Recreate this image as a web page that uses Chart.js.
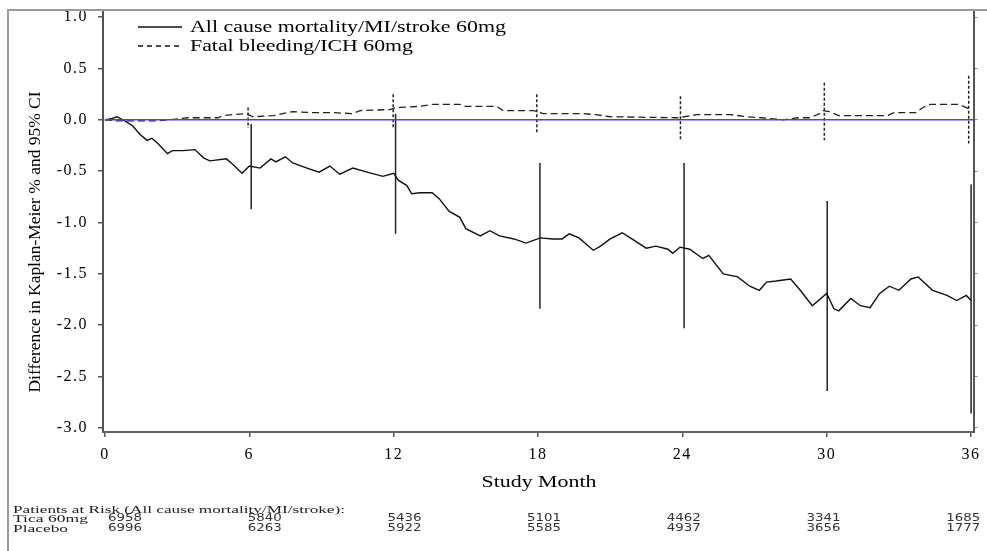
<!DOCTYPE html>
<html><head><meta charset="utf-8">
<script src="https://cdn.jsdelivr.net/npm/chart.js@4.4.1/dist/chart.umd.min.js"></script>
<style>html,body{margin:0;padding:0;background:#fff;} #wrap{width:987px;height:551px;position:relative;}</style>
</head><body><div id="wrap"><canvas id="c"></canvas></div>
<script>
// ---- data ----
const maceMonths = [0,0.25,0.5,0.83,1.16,1.45,1.75,1.95,2.2,2.6,2.8,3.25,3.74,4.1,4.36,5.05,5.3,5.7,6.0,6.45,6.9,7.1,7.5,7.8,8.4,8.9,9.35,9.76,10.3,10.9,11.55,12.0,12.2,12.55,12.75,13.1,13.6,13.9,14.3,14.75,15.0,15.6,16.0,16.4,17.0,17.5,18.1,18.6,19.0,19.3,19.7,20.3,20.6,21.0,21.5,21.9,22.5,22.9,23.4,23.6,23.9,24.3,24.85,25.1,25.7,26.3,26.8,27.2,27.5,27.9,28.5,28.9,29.4,30.0,30.3,30.5,31.0,31.4,31.8,32.2,32.6,33.0,33.5,33.8,34.4,35.0,35.4,35.8,36.0];
const maceDiff = [0,0.01,0.03,-0.01,-0.06,-0.14,-0.20,-0.18,-0.23,-0.33,-0.30,-0.30,-0.29,-0.37,-0.40,-0.38,-0.43,-0.52,-0.45,-0.47,-0.38,-0.41,-0.36,-0.42,-0.47,-0.51,-0.45,-0.53,-0.47,-0.51,-0.55,-0.52,-0.59,-0.64,-0.72,-0.71,-0.71,-0.77,-0.89,-0.95,-1.06,-1.13,-1.08,-1.13,-1.16,-1.20,-1.15,-1.16,-1.16,-1.11,-1.15,-1.27,-1.23,-1.16,-1.10,-1.16,-1.25,-1.23,-1.26,-1.30,-1.24,-1.26,-1.35,-1.32,-1.50,-1.53,-1.62,-1.66,-1.58,-1.57,-1.55,-1.66,-1.81,-1.69,-1.84,-1.86,-1.74,-1.81,-1.83,-1.69,-1.62,-1.66,-1.55,-1.53,-1.66,-1.71,-1.76,-1.71,-1.76];
const bleedMonths = [0,0.5,1.0,2.2,3.45,4.7,4.9,5.3,5.9,6.15,7.0,7.4,7.8,8.6,9.5,10.3,10.6,11.85,12.1,13.0,13.6,14.75,15.0,16.3,16.55,17.8,18.0,18.2,19.3,19.9,20.4,21.0,23.8,24.6,26.0,26.7,27.3,28.2,28.8,29.3,29.7,29.85,30.1,30.5,32.5,32.8,33.7,34.0,34.3,35.5,35.9];
const bleedDiff = [0,-0.01,-0.01,-0.01,0.02,0.02,0.04,0.05,0.06,0.03,0.04,0.06,0.08,0.07,0.07,0.06,0.09,0.10,0.12,0.13,0.15,0.15,0.13,0.13,0.09,0.09,0.08,0.06,0.06,0.06,0.05,0.03,0.02,0.05,0.05,0.03,0.02,0.0,0.02,0.02,0.06,0.09,0.08,0.04,0.04,0.07,0.07,0.12,0.15,0.15,0.11];
const ciMaceMonths = [6.08,12.08,18.08,24.07,30.02,36.0];
const ciMaceLow = [-0.87,-1.11,-1.84,-2.03,-2.64,-2.86];
const ciMaceHigh = [-0.04,0.06,-0.42,-0.42,-0.79,-0.63];
const ciBleedMonths = [5.95,11.98,17.95,23.92,29.9,35.9];
const ciBleedLow = [-0.08,-0.09,-0.12,-0.20,-0.20,-0.23];
const ciBleedHigh = [0.12,0.25,0.25,0.23,0.36,0.43];
const xTicks = [0,6,12,18,24,30,36];
const yTicks = [-3,-2.5,-2,-1.5,-1,-0.5,0,0.5,1];
const legendLabels = ['All cause mortality/MI/stroke 60mg','Fatal bleeding/ICH 60mg'];
const yTitle = 'Difference in Kaplan-Meier % and 95% CI';
const xTitle = 'Study Month';
const riskTitle = 'Patients at Risk (All cause mortality/MI/stroke):';
const riskGroups = ['Tica 60mg','Placebo'];
const riskTica = [6958,5840,5436,5101,4462,3341,1685];
const riskPlacebo = [6996,6263,5922,5585,4937,3656,1777];

// ---- build datasets ----
const pts = (xs, ys) => xs.map((x,i)=>({x:x, y:ys[i]}));
function ciPoints(xs, lo, hi){
  const out=[];
  xs.forEach((x,i)=>{ out.push({x:x,y:hi[i]}); out.push({x:x,y:lo[i]}); out.push({x:x,y:null}); });
  return out;
}
const SERIF = "'Liberation Serif','Times New Roman',serif";

function stretchText(ctx, text, x, y, font, width, align, color){
  ctx.save();
  ctx.letterSpacing = '0px';
  ctx.font = font; ctx.fillStyle = color || '#111';
  ctx.textBaseline = 'middle'; ctx.textAlign = 'left';
  const w = ctx.measureText(text).width;
  const sx = width / w;
  const x0 = align === 'center' ? x - width/2 : (align === 'right' ? x - width : x);
  ctx.translate(x0, y); ctx.scale(sx, 1);
  ctx.fillText(text, 0, 0);
  ctx.restore();
}

const decor = {
  id: 'decor',
  beforeDraw(chart){ chart.ctx.letterSpacing = '1.5px'; },
  afterDraw(chart){
    const ctx = chart.ctx;
    ctx.letterSpacing = '0px';
    // outer frame
    ctx.save();
    ctx.strokeStyle = '#9a9a9a'; ctx.lineWidth = 2;
    ctx.beginPath(); ctx.moveTo(8, 551); ctx.lineTo(8, 10); ctx.lineTo(987, 10); ctx.stroke();
    ctx.restore();
    // legend
    ctx.save();
    ctx.strokeStyle = '#111'; ctx.lineWidth = 1.3;
    ctx.beginPath(); ctx.moveTo(138, 27); ctx.lineTo(182, 27); ctx.stroke();
    ctx.setLineDash([5,4]);
    ctx.beginPath(); ctx.moveTo(138, 46); ctx.lineTo(182, 46); ctx.stroke();
    ctx.restore();
    stretchText(ctx, legendLabels[0], 190, 28, '16px ' + SERIF, 316, 'left', '#000');
    stretchText(ctx, legendLabels[1], 190, 47, '16px ' + SERIF, 223, 'left', '#000');
    // axis titles
    ctx.save();
    ctx.translate(36, 242); ctx.rotate(-Math.PI/2);
    stretchText(ctx, yTitle, 0, 0, '16px ' + SERIF, 301, 'center', '#000');
    ctx.restore();
    stretchText(ctx, xTitle, 539, 483, '17px ' + SERIF, 115, 'center', '#000');
    // patients at risk table
    stretchText(ctx, riskTitle, 13, 510, '11px ' + SERIF, 332, 'left', '#222');
    stretchText(ctx, riskGroups[0], 13, 519.5, '11px ' + SERIF, 75, 'left', '#222');
    stretchText(ctx, riskGroups[1], 13, 529, '11px ' + SERIF, 55, 'left', '#222');
    const colStart = 125, colStep = 139.7;
    riskTica.forEach((v,i)=> stretchText(ctx, String(v), colStart + i*colStep, 518.5, "11px 'DejaVu Sans',sans-serif", 34, 'center', '#333'));
    riskPlacebo.forEach((v,i)=> stretchText(ctx, String(v), colStart + i*colStep, 528.5, "11px 'DejaVu Sans',sans-serif", 34, 'center', '#333'));
  }
};

function noPad(s){ s.paddingTop = 0; s.paddingBottom = 0; s.paddingLeft = 0; s.paddingRight = 0; }

new Chart(document.getElementById('c'), {
  type: 'line',
  data: {
    datasets: [
      { label:'zero', data: pts([0,36.1],[0,0]), borderColor:'#4444ee', borderWidth:1.5, pointRadius:0, order:0 },
      { label: legendLabels[0], data: pts(maceMonths, maceDiff), borderColor:'#111', borderWidth:1.4, pointRadius:0, tension:0, order:1 },
      { label: legendLabels[1], data: pts(bleedMonths, bleedDiff), borderColor:'#222', borderWidth:1.3, borderDash:[7,4], pointRadius:0, tension:0, order:2 },
      { label:'ci1', data: ciPoints(ciMaceMonths, ciMaceLow, ciMaceHigh), borderColor:'#222', borderWidth:1.5, pointRadius:0, spanGaps:false, order:3 },
      { label:'ci2', data: ciPoints(ciBleedMonths, ciBleedLow, ciBleedHigh), borderColor:'#222', borderWidth:1.5, borderDash:[3,2], pointRadius:0, spanGaps:false, order:4 }
    ]
  },
  options: {
    responsive: true, maintainAspectRatio: false, animation: false,
    layout: { padding: { top: 12, left: 0, right: 0, bottom: 0 } },
    plugins: { legend: { display:false }, tooltip: { enabled:false } },
    scales: {
      x: {
        type:'linear', position:'bottom', min:-0.08, max:36.1,
        afterBuildTicks: s => { s.ticks = xTicks.map(v=>({value:v})); },
        afterFit: s => { s.height = 119; noPad(s); },
        grid: { drawOnChartArea:false, drawTicks:true, tickLength:5, color:'#555', lineWidth:1.5 },
        border: { display:true, color:'#666', width:2 },
        ticks: { padding:8, color:'#000', font:{ family:SERIF, size:16 }, maxRotation:0, callback: v => String(v) }
      },
      y: {
        type:'linear', position:'left', min:-3.04, max:1.05,
        afterBuildTicks: s => { s.ticks = yTicks.map(v=>({value:v})); },
        afterFit: s => { s.width = 103; noPad(s); },
        grid: { drawOnChartArea:false, drawTicks:true, tickLength:5, color:'#555', lineWidth:1.5 },
        border: { display:true, color:'#555', width:2 },
        ticks: { padding:10, color:'#000', font:{ family:SERIF, size:16 }, callback: v => Number(v).toFixed(1) }
      },
      y2: {
        type:'linear', position:'right', min:-3.04, max:1.05,
        afterBuildTicks: s => { s.ticks = yTicks.map(v=>({value:v})); },
        afterFit: s => { s.width = 13.5; noPad(s); },
        grid: { drawOnChartArea:false, drawTicks:true, tickLength:4, color:'#888', lineWidth:1 },
        border: { display:true, color:'#555', width:2 },
        ticks: { display:false }
      }
    }
  },
  plugins: [decor]
});
</script>
</body></html>
